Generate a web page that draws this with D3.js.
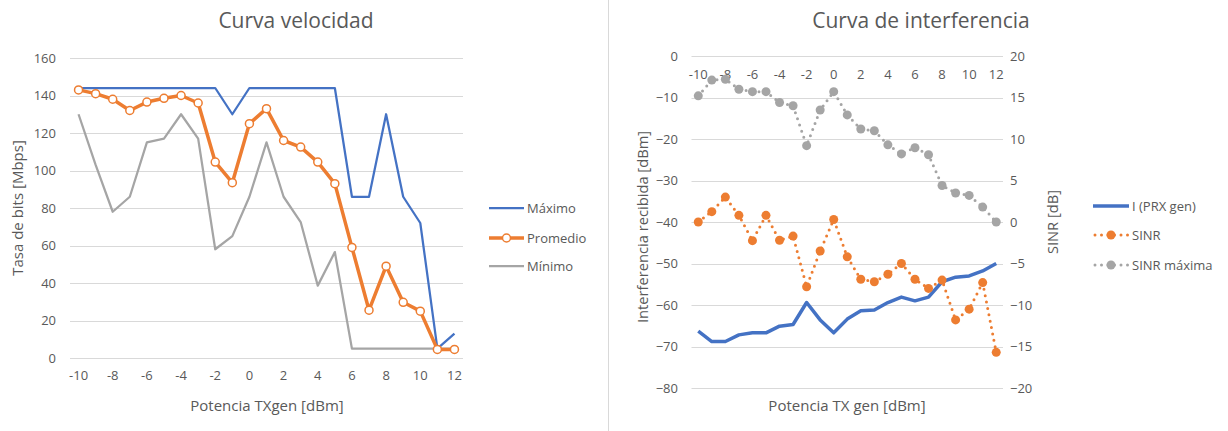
<!DOCTYPE html>
<html><head><meta charset="utf-8">
<script src="https://cdn.jsdelivr.net/npm/d3@7"></script>
<style>
body{margin:0;background:#fff;}
svg{display:block;font-family:"Open Sans",sans-serif;}
</style></head>
<body><svg id="c" width="1228" height="431"></svg>
<script>
// ---------- Data ----------
const categories = [-10,-9,-8,-7,-6,-5,-4,-3,-2,-1,0,1,2,3,4,5,6,7,8,9,10,11,12];
const tickLabels = [-10,-8,-6,-4,-2,0,2,4,6,8,10,12];

// Left chart: Curva velocidad
const maximo   = [144,144,144,144,144,144,144,144,144,130,144,144,144,144,144,144,86,86,130,86,72,5,13];
const promedio = [143,141,138,132,136.5,138.5,140,136,104.5,93.5,125,133,116,112.5,104.5,93,59,25.5,49,29.7,25,4.6,4.6];
const minimo   = [130,103,78,86,115,117,130,117,58,65,86,115,86,72.5,38.6,56.5,5,5,5,5,5,5,5];
const leftYTicks = [0,20,40,60,80,100,120,140,160];

// Right chart: Curva de interferencia
const prx      = [-66.3,-68.8,-68.8,-67.2,-66.7,-66.7,-65.1,-64.7,-59.4,-63.6,-66.7,-63.4,-61.4,-61.2,-59.4,-58.1,-59,-58.1,-54.4,-53.3,-53,-51.8,-50];
const sinr     = [0,1.25,3,0.8,-2.25,0.8,-2.2,-1.7,-7.8,-3.5,0.3,-4.2,-6.9,-7.2,-6.3,-5,-6.9,-8,-7,-11.8,-10.5,-7.3,-15.7];
const sinrMax  = [15.2,17.1,17.2,16,15.7,15.7,14.4,14,9.2,13.5,15.7,12.9,11.2,11,9.3,8.2,8.95,8.1,4.4,3.5,3.2,1.8,0];
const rightYTicksL = [-80,-70,-60,-50,-40,-30,-20,-10,0];
const rightYTicksR = [-20,-15,-10,-5,0,5,10,15,20];

const BLUE="#4472C4", ORANGE="#ED7D31", GRAY="#A5A5A5", TXT="#595959", GRID="#D9D9D9";
const svg = d3.select("#c");

// divider
svg.append("line").attr("x1",608.5).attr("x2",608.5).attr("y1",0).attr("y2",431)
  .attr("stroke","#D9D9D9").attr("stroke-width",1);

// ================= LEFT CHART =================
(function(){
  const x = d3.scaleBand().domain(categories).range([70,463]).padding(0);
  const cx = d => x(d)+x.bandwidth()/2;
  const y = d3.scaleLinear().domain([0,160]).range([358,58]);
  const g = svg.append("g");

  g.selectAll("line.grid").data(leftYTicks).join("line")
    .attr("x1",70).attr("x2",463).attr("y1",d=>Math.round(y(d))+0.5).attr("y2",d=>Math.round(y(d))+0.5)
    .attr("stroke",GRID).attr("stroke-width",1);

  const ya = g.append("g").attr("transform","translate(60,0)")
    .call(d3.axisLeft(y).tickValues(leftYTicks).tickSize(0).tickPadding(0));
  ya.select(".domain").remove();
  ya.selectAll("text").attr("fill",TXT).style("font-size","13px").style("font-family","Open Sans").attr("x",-4);

  const xa = g.append("g").attr("transform","translate(0,358)")
    .call(d3.axisBottom(x).tickValues(tickLabels).tickSize(0).tickPadding(13));
  xa.select(".domain").remove();
  xa.selectAll("text").attr("fill",TXT).style("font-size","13px").style("font-family","Open Sans");

  const line = d3.line().x((d,i)=>cx(categories[i])).y(d=>y(d));
  g.append("path").datum(minimo).attr("d",line).attr("fill","none").attr("stroke",GRAY).attr("stroke-width",2.25).attr("stroke-linejoin","round");
  g.append("path").datum(maximo).attr("d",line).attr("fill","none").attr("stroke",BLUE).attr("stroke-width",2.25).attr("stroke-linejoin","round");
  g.append("path").datum(promedio).attr("d",line).attr("fill","none").attr("stroke",ORANGE).attr("stroke-width",3.5).attr("stroke-linejoin","round");
  g.selectAll("circle.p").data(promedio).join("circle")
    .attr("cx",(d,i)=>cx(categories[i])).attr("cy",d=>y(d)).attr("r",4)
    .attr("fill","#fff").attr("stroke",ORANGE).attr("stroke-width",1.5);

  g.append("text").attr("x",296).attr("y",28).attr("text-anchor","middle").attr("fill",TXT)
    .style("font-size","21px").text("Curva velocidad");
  g.append("text").attr("transform","translate(23,208) rotate(-90)").attr("text-anchor","middle").attr("fill",TXT)
    .style("font-size","15px").text("Tasa de bits [Mbps]");
  g.append("text").attr("x",267).attr("y",411).attr("text-anchor","middle").attr("fill",TXT)
    .style("font-size","15px").text("Potencia TXgen [dBm]");

  const leg = [{n:"Máximo",c:BLUE,w:2.25,m:false,y:208},{n:"Promedio",c:ORANGE,w:3.5,m:true,y:238},{n:"Mínimo",c:GRAY,w:2.25,m:false,y:266}];
  leg.forEach(l=>{
    g.append("line").attr("x1",489).attr("x2",524).attr("y1",l.y).attr("y2",l.y).attr("stroke",l.c).attr("stroke-width",l.w);
    if(l.m) g.append("circle").attr("cx",506.5).attr("cy",l.y).attr("r",4).attr("fill","#fff").attr("stroke",l.c).attr("stroke-width",1.5);
    g.append("text").attr("x",527).attr("y",l.y+4.5).attr("fill",TXT).style("font-size","13px").text(l.n);
  });
})();

// ================= RIGHT CHART =================
(function(){
  const x = d3.scaleBand().domain(categories).range([691.5,1003]).padding(0);
  const cx = d => x(d)+x.bandwidth()/2;
  const yL = d3.scaleLinear().domain([-80,0]).range([388,56]);
  const yR = d3.scaleLinear().domain([-20,20]).range([388,56]);
  const g = svg.append("g");

  g.selectAll("line.grid").data(rightYTicksL).join("line")
    .attr("x1",691.5).attr("x2",1003).attr("y1",d=>Math.round(yL(d))+0.5).attr("y2",d=>Math.round(yL(d))+0.5)
    .attr("stroke",GRID).attr("stroke-width",1);

  const ya = g.append("g").attr("transform","translate(682,0)")
    .call(d3.axisLeft(yL).tickValues(rightYTicksL).tickSize(0).tickPadding(0));
  ya.select(".domain").remove();
  ya.selectAll("text").attr("fill",TXT).style("font-size","13px").style("font-family","Open Sans").attr("x",-4);

  const yb = g.append("g").attr("transform","translate(1010,0)")
    .call(d3.axisRight(yR).tickValues(rightYTicksR).tickSize(0).tickPadding(0));
  yb.select(".domain").remove();
  yb.selectAll("text").attr("fill",TXT).style("font-size","13px").style("font-family","Open Sans");

  const xa = g.append("g").attr("transform","translate(0,"+yL(0)+")")
    .call(d3.axisBottom(x).tickValues(tickLabels).tickSize(0).tickPadding(14));
  xa.select(".domain").remove();
  xa.selectAll("text").attr("fill",TXT).style("font-size","13px").style("font-family","Open Sans");

  const lineL = d3.line().x((d,i)=>cx(categories[i])).y(d=>yL(d));
  const lineR = d3.line().x((d,i)=>cx(categories[i])).y(d=>yR(d));

  g.append("path").datum(sinrMax).attr("d",lineR).attr("fill","none").attr("stroke",GRAY).attr("stroke-width",3)
    .attr("stroke-linecap","round").attr("stroke-dasharray","0 6.5");
  g.selectAll("circle.sm").data(sinrMax).join("circle")
    .attr("cx",(d,i)=>cx(categories[i])).attr("cy",d=>yR(d)).attr("r",4.5).attr("fill",GRAY);

  g.append("path").datum(prx).attr("d",lineL).attr("fill","none").attr("stroke",BLUE).attr("stroke-width",3.5).attr("stroke-linejoin","round");

  g.append("path").datum(sinr).attr("d",lineR).attr("fill","none").attr("stroke",ORANGE).attr("stroke-width",3)
    .attr("stroke-linecap","round").attr("stroke-dasharray","0 6.5");
  g.selectAll("circle.s").data(sinr).join("circle")
    .attr("cx",(d,i)=>cx(categories[i])).attr("cy",d=>yR(d)).attr("r",4.5).attr("fill",ORANGE);

  g.append("text").attr("x",921).attr("y",28).attr("text-anchor","middle").attr("fill",TXT)
    .style("font-size","21px").text("Curva de interferencia");
  g.append("text").attr("transform","translate(648,227) rotate(-90)").attr("text-anchor","middle").attr("fill",TXT)
    .style("font-size","14.7px").text("Interferencia recibida [dBm]");
  g.append("text").attr("transform","translate(1058,222) rotate(-90)").attr("text-anchor","middle").attr("fill",TXT)
    .style("font-size","14.7px").text("SINR [dB]");
  g.append("text").attr("x",847).attr("y",411).attr("text-anchor","middle").attr("fill",TXT)
    .style("font-size","15px").text("Potencia TX gen [dBm]");

  const leg = [{n:"I (PRX gen)",c:BLUE,dot:false,y:206},{n:"SINR",c:ORANGE,dot:true,y:235},{n:"SINR máxima",c:GRAY,dot:true,y:265}];
  leg.forEach(l=>{
    if(l.dot){
      g.append("line").attr("x1",1095).attr("x2",1129).attr("y1",l.y).attr("y2",l.y).attr("stroke",l.c).attr("stroke-width",3)
        .attr("stroke-linecap","round").attr("stroke-dasharray","0 6.5");
      g.append("circle").attr("cx",1111).attr("cy",l.y).attr("r",4.5).attr("fill",l.c);
    } else {
      g.append("line").attr("x1",1093).attr("x2",1129).attr("y1",l.y).attr("y2",l.y).attr("stroke",l.c).attr("stroke-width",3.5);
    }
    g.append("text").attr("x",1132).attr("y",l.y+4.5).attr("fill",TXT).style("font-size","13px").text(l.n);
  });
})();
</script>
</body></html>
